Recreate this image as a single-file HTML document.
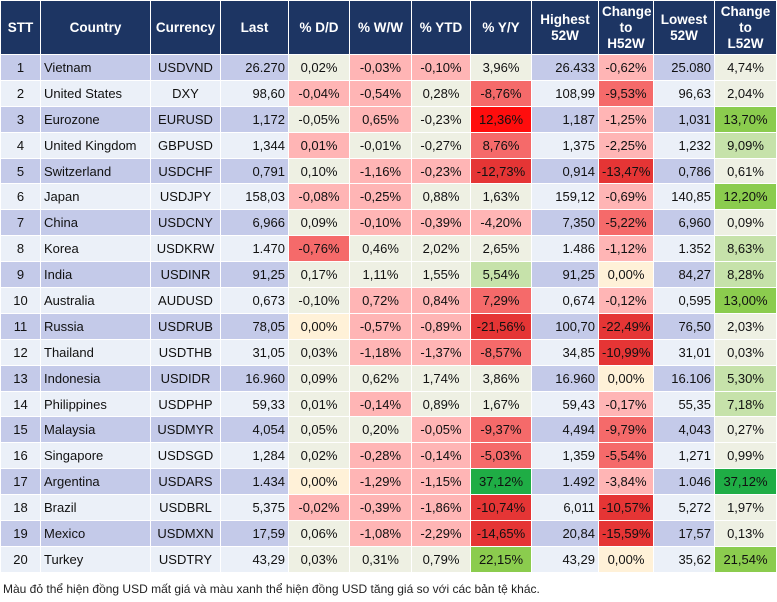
<!DOCTYPE html>
<html><head><meta charset="utf-8"><style>
body{margin:0;background:#fff;width:777px;height:602px;overflow:hidden;font-family:"Liberation Sans",sans-serif;}
table{position:absolute;left:0;top:0;border-collapse:collapse;table-layout:fixed;width:776px;}
td,th{border:1px solid #fff;padding:0 3px;font-size:13px;color:#111;white-space:nowrap;overflow:hidden;}
th{background:#1d3563;color:#fff;font-weight:bold;height:53px;text-align:center;line-height:16px;font-size:13.5px;}
td{height:24.9px;}
tr.o td.b{background:#c4cae9;}
tr.e td.b{background:#ebf0f8;}
.c{text-align:center}.l{text-align:left}.r{text-align:right}
td.n{background:#eef0e3;text-align:center}
td.y{background:#fff1d8;text-align:center}
td.r1{background:#ffb5b5;text-align:center}
td.r2{background:#f56a6a;text-align:center}
td.r3{background:#e53535;text-align:center}
td.R{background:#ff0d0d;text-align:center}
td.g1{background:#c6e2aa;text-align:center}
td.g2{background:#8bcc4e;text-align:center}
td.G{background:#1fad45;text-align:center}
.foot{position:absolute;left:3px;top:582px;font-size:12px;color:#222;}
</style></head><body>
<table>
<colgroup><col style="width:40px"><col style="width:110px"><col style="width:70px"><col style="width:68px"><col style="width:61px"><col style="width:62px"><col style="width:59px"><col style="width:61px"><col style="width:67px"><col style="width:55px"><col style="width:61px"><col style="width:62px"></colgroup>
<tr><th>STT</th><th>Country</th><th>Currency</th><th>Last</th><th>% D/D</th><th>% W/W</th><th>% YTD</th><th>% Y/Y</th><th>Highest<br>52W</th><th>Change<br>to<br>H52W</th><th>Lowest<br>52W</th><th>Change<br>to<br>L52W</th></tr>
<tr class="o"><td class="b c">1</td><td class="b l">Vietnam</td><td class="b c">USDVND</td><td class="b r">26.270</td><td class="n">0,02%</td><td class="r1">-0,03%</td><td class="r1">-0,10%</td><td class="n">3,96%</td><td class="b r">26.433</td><td class="r1">-0,62%</td><td class="b r">25.080</td><td class="n">4,74%</td></tr>
<tr class="e"><td class="b c">2</td><td class="b l">United States</td><td class="b c">DXY</td><td class="b r">98,60</td><td class="r1">-0,04%</td><td class="r1">-0,54%</td><td class="n">0,28%</td><td class="r2">-8,76%</td><td class="b r">108,99</td><td class="r2">-9,53%</td><td class="b r">96,63</td><td class="n">2,04%</td></tr>
<tr class="o"><td class="b c">3</td><td class="b l">Eurozone</td><td class="b c">EURUSD</td><td class="b r">1,172</td><td class="n">-0,05%</td><td class="r1">0,65%</td><td class="n">-0,23%</td><td class="R">12,36%</td><td class="b r">1,187</td><td class="r1">-1,25%</td><td class="b r">1,031</td><td class="g2">13,70%</td></tr>
<tr class="e"><td class="b c">4</td><td class="b l">United Kingdom</td><td class="b c">GBPUSD</td><td class="b r">1,344</td><td class="r1">0,01%</td><td class="n">-0,01%</td><td class="n">-0,27%</td><td class="r2">8,76%</td><td class="b r">1,375</td><td class="r1">-2,25%</td><td class="b r">1,232</td><td class="g1">9,09%</td></tr>
<tr class="o"><td class="b c">5</td><td class="b l">Switzerland</td><td class="b c">USDCHF</td><td class="b r">0,791</td><td class="n">0,10%</td><td class="r1">-1,16%</td><td class="r1">-0,23%</td><td class="r3">-12,73%</td><td class="b r">0,914</td><td class="r3">-13,47%</td><td class="b r">0,786</td><td class="n">0,61%</td></tr>
<tr class="e"><td class="b c">6</td><td class="b l">Japan</td><td class="b c">USDJPY</td><td class="b r">158,03</td><td class="r1">-0,08%</td><td class="r1">-0,25%</td><td class="n">0,88%</td><td class="n">1,63%</td><td class="b r">159,12</td><td class="r1">-0,69%</td><td class="b r">140,85</td><td class="g2">12,20%</td></tr>
<tr class="o"><td class="b c">7</td><td class="b l">China</td><td class="b c">USDCNY</td><td class="b r">6,966</td><td class="n">0,09%</td><td class="r1">-0,10%</td><td class="r1">-0,39%</td><td class="r1">-4,20%</td><td class="b r">7,350</td><td class="r2">-5,22%</td><td class="b r">6,960</td><td class="n">0,09%</td></tr>
<tr class="e"><td class="b c">8</td><td class="b l">Korea</td><td class="b c">USDKRW</td><td class="b r">1.470</td><td class="r2">-0,76%</td><td class="n">0,46%</td><td class="n">2,02%</td><td class="n">2,65%</td><td class="b r">1.486</td><td class="r1">-1,12%</td><td class="b r">1.352</td><td class="g1">8,63%</td></tr>
<tr class="o"><td class="b c">9</td><td class="b l">India</td><td class="b c">USDINR</td><td class="b r">91,25</td><td class="n">0,17%</td><td class="n">1,11%</td><td class="n">1,55%</td><td class="g1">5,54%</td><td class="b r">91,25</td><td class="y">0,00%</td><td class="b r">84,27</td><td class="g1">8,28%</td></tr>
<tr class="e"><td class="b c">10</td><td class="b l">Australia</td><td class="b c">AUDUSD</td><td class="b r">0,673</td><td class="n">-0,10%</td><td class="r1">0,72%</td><td class="r1">0,84%</td><td class="r2">7,29%</td><td class="b r">0,674</td><td class="r1">-0,12%</td><td class="b r">0,595</td><td class="g2">13,00%</td></tr>
<tr class="o"><td class="b c">11</td><td class="b l">Russia</td><td class="b c">USDRUB</td><td class="b r">78,05</td><td class="y">0,00%</td><td class="r1">-0,57%</td><td class="r1">-0,89%</td><td class="r3">-21,56%</td><td class="b r">100,70</td><td class="r3">-22,49%</td><td class="b r">76,50</td><td class="n">2,03%</td></tr>
<tr class="e"><td class="b c">12</td><td class="b l">Thailand</td><td class="b c">USDTHB</td><td class="b r">31,05</td><td class="n">0,03%</td><td class="r1">-1,18%</td><td class="r1">-1,37%</td><td class="r2">-8,57%</td><td class="b r">34,85</td><td class="r3">-10,99%</td><td class="b r">31,01</td><td class="n">0,03%</td></tr>
<tr class="o"><td class="b c">13</td><td class="b l">Indonesia</td><td class="b c">USDIDR</td><td class="b r">16.960</td><td class="n">0,09%</td><td class="n">0,62%</td><td class="n">1,74%</td><td class="n">3,86%</td><td class="b r">16.960</td><td class="y">0,00%</td><td class="b r">16.106</td><td class="g1">5,30%</td></tr>
<tr class="e"><td class="b c">14</td><td class="b l">Philippines</td><td class="b c">USDPHP</td><td class="b r">59,33</td><td class="n">0,01%</td><td class="r1">-0,14%</td><td class="n">0,89%</td><td class="n">1,67%</td><td class="b r">59,43</td><td class="r1">-0,17%</td><td class="b r">55,35</td><td class="g1">7,18%</td></tr>
<tr class="o"><td class="b c">15</td><td class="b l">Malaysia</td><td class="b c">USDMYR</td><td class="b r">4,054</td><td class="n">0,05%</td><td class="n">0,20%</td><td class="r1">-0,05%</td><td class="r2">-9,37%</td><td class="b r">4,494</td><td class="r2">-9,79%</td><td class="b r">4,043</td><td class="n">0,27%</td></tr>
<tr class="e"><td class="b c">16</td><td class="b l">Singapore</td><td class="b c">USDSGD</td><td class="b r">1,284</td><td class="n">0,02%</td><td class="r1">-0,28%</td><td class="r1">-0,14%</td><td class="r2">-5,03%</td><td class="b r">1,359</td><td class="r2">-5,54%</td><td class="b r">1,271</td><td class="n">0,99%</td></tr>
<tr class="o"><td class="b c">17</td><td class="b l">Argentina</td><td class="b c">USDARS</td><td class="b r">1.434</td><td class="y">0,00%</td><td class="r1">-1,29%</td><td class="r1">-1,15%</td><td class="G">37,12%</td><td class="b r">1.492</td><td class="r1">-3,84%</td><td class="b r">1.046</td><td class="G">37,12%</td></tr>
<tr class="e"><td class="b c">18</td><td class="b l">Brazil</td><td class="b c">USDBRL</td><td class="b r">5,375</td><td class="r1">-0,02%</td><td class="r1">-0,39%</td><td class="r1">-1,86%</td><td class="r3">-10,74%</td><td class="b r">6,011</td><td class="r3">-10,57%</td><td class="b r">5,272</td><td class="n">1,97%</td></tr>
<tr class="o"><td class="b c">19</td><td class="b l">Mexico</td><td class="b c">USDMXN</td><td class="b r">17,59</td><td class="n">0,06%</td><td class="r1">-1,08%</td><td class="r1">-2,29%</td><td class="r3">-14,65%</td><td class="b r">20,84</td><td class="r3">-15,59%</td><td class="b r">17,57</td><td class="n">0,13%</td></tr>
<tr class="e"><td class="b c">20</td><td class="b l">Turkey</td><td class="b c">USDTRY</td><td class="b r">43,29</td><td class="n">0,03%</td><td class="n">0,31%</td><td class="n">0,79%</td><td class="g2">22,15%</td><td class="b r">43,29</td><td class="y">0,00%</td><td class="b r">35,62</td><td class="g2">21,54%</td></tr>
</table>
<div class="foot">Màu đỏ thể hiện đồng USD mất giá và màu xanh thể hiện đồng USD tăng giá so với các bản tệ khác.</div>
</body></html>
